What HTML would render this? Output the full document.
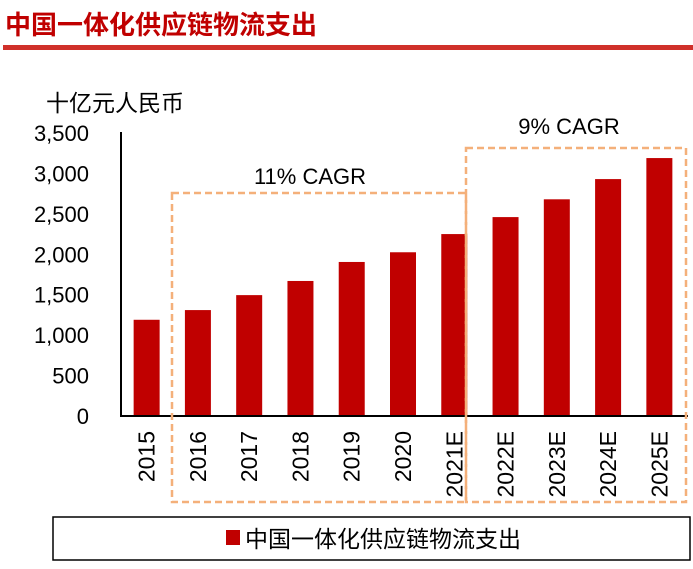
<!DOCTYPE html>
<html><head><meta charset="utf-8"><style>
body{margin:0;width:693px;height:564px;background:#fff;overflow:hidden;font-family:"Liberation Sans","Noto Sans CJK SC",sans-serif}
</style></head><body>
<svg width="693" height="564">
<text x="5" y="34" font-size="26" font-weight="bold" fill="#c00000" font-family="Liberation Sans, Noto Sans CJK SC, sans-serif">中国一体化供应链物流支出</text>
<rect x="3" y="45" width="690" height="5" fill="#d0302a"/>
<text x="46" y="111" font-size="23" fill="#000" font-family="Liberation Sans, Noto Sans CJK SC, sans-serif">十亿元人民币</text>
<g id="yt"></g><g id="bars"></g><g id="xl"></g>
<line x1="121" y1="132" x2="121" y2="416" stroke="#000" stroke-width="2"/>
<line x1="120" y1="416" x2="688" y2="416" stroke="#000" stroke-width="2"/>
<rect x="172" y="193" width="294" height="309" fill="none" stroke="#f4b07a" stroke-width="2.5" stroke-dasharray="7,4"/>
<rect x="466" y="148" width="220" height="354" fill="none" stroke="#f4b07a" stroke-width="2.5" stroke-dasharray="7,4"/>
<text x="310" y="184" font-size="22" text-anchor="middle">11% CAGR</text>
<text x="569" y="134" font-size="22" text-anchor="middle">9% CAGR</text>
<rect x="53" y="517" width="637" height="43" fill="#fff" stroke="#000" stroke-width="1.5"/>
<rect x="226" y="530" width="14" height="15" fill="#c00000"/>
<text x="245" y="547" font-size="23" font-family="Liberation Sans, Noto Sans CJK SC, sans-serif">中国一体化供应链物流支出</text>
</svg>
<script>
const categories=["2015","2016","2017","2018","2019","2020","2021E","2022E","2023E","2024E","2025E"];
const values=[1190,1310,1495,1670,1905,2025,2250,2460,2680,2930,3190];
const ticks=[0,500,1000,1500,2000,2500,3000,3500];
const tickLabels=["0","500","1,000","1,500","2,000","2,500","3,000","3,500"];
const NS="http://www.w3.org/2000/svg";
const y0=416,y1=133,vmax=3500,xl=121,xr=685;
const yS=v=>y0-(y0-y1)*v/vmax;
const bw=(xr-xl)/categories.length;
const xC=i=>xl+bw*(i+0.5);
function mk(t,a,p){const e=document.createElementNS(NS,t);for(const k in a)e.setAttribute(k,a[k]);document.getElementById(p).appendChild(e);return e;}
ticks.forEach((t,i)=>{const e=mk("text",{x:89,y:yS(t)+8,"font-size":22,"text-anchor":"end"},"yt");e.textContent=tickLabels[i];

});
categories.forEach((c,i)=>{const v=values[i];
const r=mk("rect",{x:xC(i)-13,y:yS(v),width:26,height:y0-yS(v),fill:"#c00000"},"bars");


const t=mk("text",{x:0,y:0,"font-size":23,"text-anchor":"end",transform:`translate(${xC(i)+8},431) rotate(-90)`},"xl");t.textContent=c;

});
</script>
</body></html>
